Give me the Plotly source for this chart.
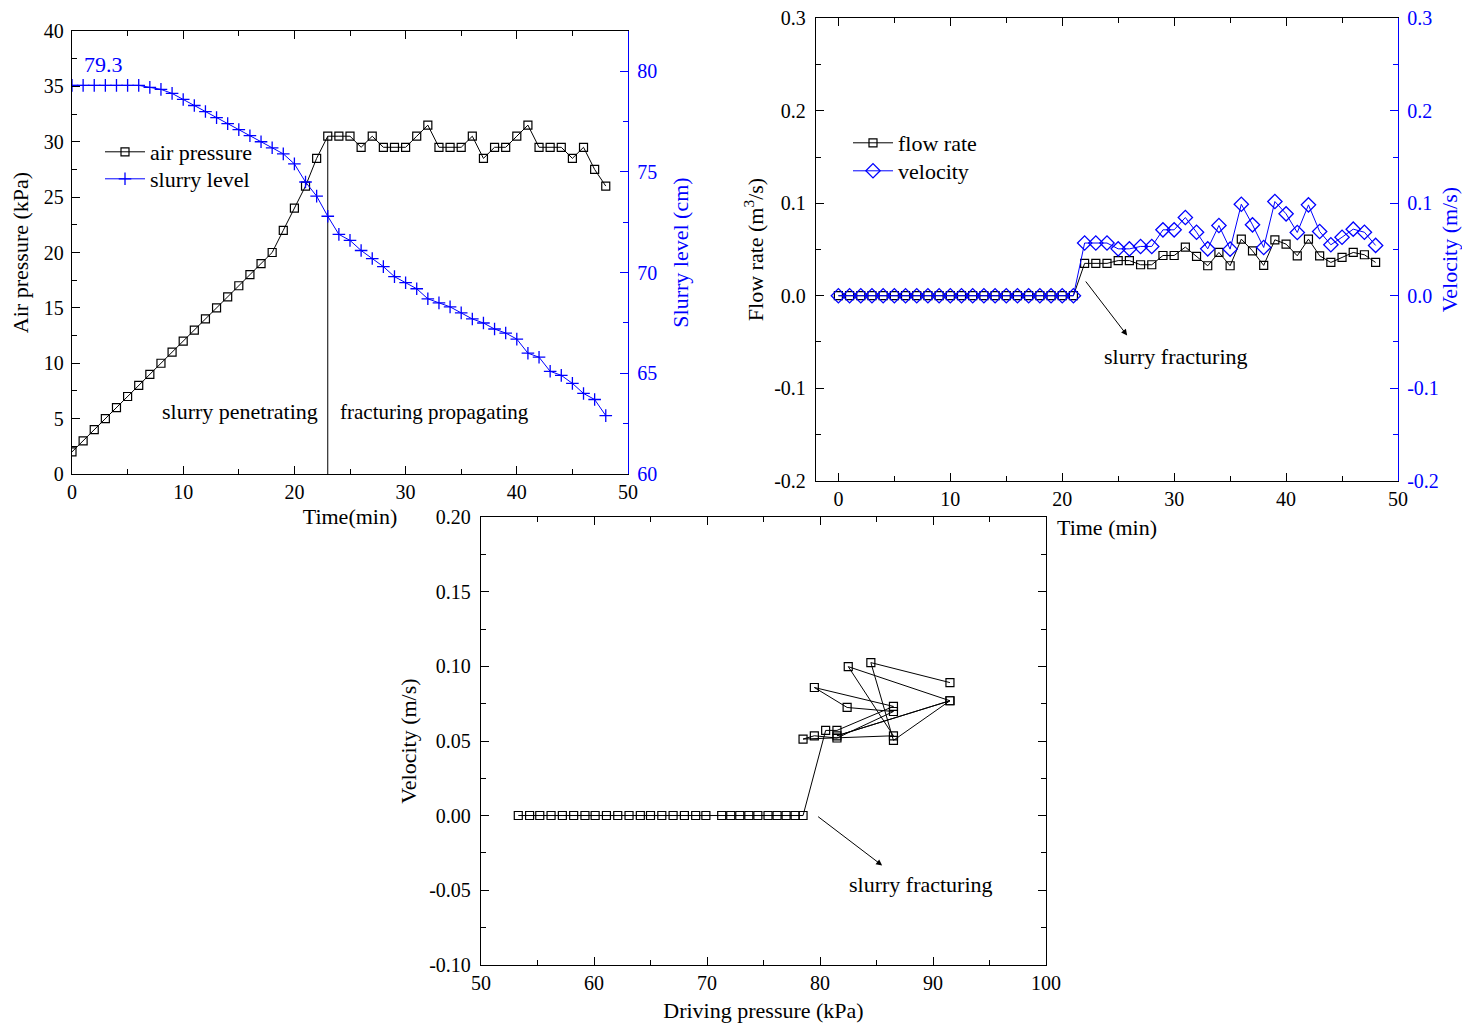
import plotly.graph_objects as go

# ---------------- data ----------------
time_min = [0, 1, 2, 3, 4, 5, 6, 7, 8, 9, 10, 11, 12, 13, 14, 15, 16, 17, 18, 19, 20,
            21, 22, 23, 24, 25, 26, 27, 28, 29, 30, 31, 32, 33, 34, 35, 36, 37, 38, 39,
            40, 41, 42, 43, 44, 45, 46, 47, 48]

air_pressure = [2, 3, 4, 5, 6, 7, 8, 9, 10, 11, 12, 13, 14, 15, 16, 17, 18, 19, 20,
                22, 24, 26, 28.5, 30.5,
                30.5, 30.5, 29.5, 30.5, 29.5, 29.5, 29.5, 30.5, 31.5, 29.5, 29.5, 29.5,
                30.5, 28.5, 29.5, 29.5, 30.5, 31.5, 29.5, 29.5, 29.5, 28.5, 29.5, 27.5, 26]

slurry_level = [79.3, 79.3, 79.3, 79.3, 79.3, 79.3, 79.3, 79.2, 79.1, 78.9, 78.6, 78.3,
                78.0, 77.7, 77.4, 77.1, 76.8, 76.5, 76.2, 75.9, 75.4, 74.5, 73.8, 72.8,
                71.9, 71.6, 71.1, 70.7, 70.3, 69.8, 69.5, 69.2, 68.7, 68.5, 68.3, 68.0,
                67.7, 67.5, 67.2, 67.0, 66.7, 66.0, 65.8, 65.1, 64.9, 64.5, 64.0, 63.7, 62.9]

fracture_time = 23
fracture_pressure = 30.5
initial_level_label = "79.3"

flow_rate = [0, 0, 0, 0, 0, 0, 0, 0, 0, 0, 0, 0, 0, 0, 0, 0, 0, 0, 0, 0, 0, 0,
             0.035, 0.035, 0.035, 0.038, 0.038, 0.0335, 0.0335, 0.0435, 0.0435, 0.0526,
             0.0425, 0.0324, 0.0468, 0.0324, 0.0612, 0.0486, 0.0328, 0.0605, 0.0558,
             0.0432, 0.0612, 0.0432, 0.036, 0.0414, 0.0468, 0.0443, 0.036]

velocity = [0, 0, 0, 0, 0, 0, 0, 0, 0, 0, 0, 0, 0, 0, 0, 0, 0, 0, 0, 0, 0, 0,
            0.057, 0.057, 0.057, 0.0507, 0.0507, 0.0533, 0.0533, 0.0713, 0.0713, 0.0846,
            0.0687, 0.0507, 0.0760, 0.0504, 0.099, 0.0767, 0.0522, 0.1019, 0.0886,
            0.0684, 0.0983, 0.0695, 0.0551, 0.0633, 0.0720, 0.0687, 0.0544]

driving_pressure = [53.3, 54.3, 55.2, 56.2, 57.2, 58.2, 59.2, 60.1, 61.1, 62.1, 63.1,
                    64.1, 65.0, 66.0, 67.0, 68.0, 69.0, 69.9, 71.3, 72.1, 72.9, 73.7,
                    74.5, 75.4, 76.2, 77.0, 77.8, 78.5,
                    80.5, 81.5, 86.5, 79.5, 82.4, 86.5, 81.5, 79.5, 78.5, 86.5, 82.5,
                    91.5, 81.5, 91.5, 86.5, 84.5, 91.5]
driving_velocity = [0, 0, 0, 0, 0, 0, 0, 0, 0, 0, 0, 0, 0, 0, 0, 0, 0, 0, 0, 0, 0, 0,
                    0, 0, 0, 0, 0, 0,
                    0.0571, 0.0571, 0.0732, 0.0859, 0.0725, 0.0698, 0.0520, 0.0535,
                    0.0513, 0.0535, 0.0999, 0.0770, 0.0535, 0.0770, 0.0504, 0.1026, 0.0892]

# tick labels (hyphen minus as in the reference)
flow_ticks = [-0.2, -0.1, 0.0, 0.1, 0.2, 0.3]
flow_ticktext = ["-0.2", "-0.1", "0.0", "0.1", "0.2", "0.3"]
drive_vel_ticks = [-0.10, -0.05, 0.00, 0.05, 0.10, 0.15, 0.20]
drive_vel_ticktext = ["-0.10", "-0.05", "0.00", "0.05", "0.10", "0.15", "0.20"]

# ---------------- styling ----------------
FONT = "Liberation Serif, Times New Roman, serif"
BLUE = "#0000ff"
TICK = 20
TITLE = 22
OFF = 8                      # default page body margin
W, H = 1470 - OFF, 1024 - OFF


def xd(a, b):
    return [(a - OFF) / W, (b - OFF) / W]


def yd(top, bottom):
    return [1 - (bottom - OFF) / H, 1 - (top - OFF) / H]


def px(x):
    return (x - OFF) / W


def py(y):
    return 1 - (y - OFF) / H


fig = go.Figure()

# ---- chart 1 ----
fig.add_trace(go.Scatter(x=time_min, y=air_pressure, name="air pressure",
                         mode="lines+markers", xaxis="x", yaxis="y",
                         line=dict(color="black", width=1),
                         marker=dict(symbol="square-open", size=8, color="black",
                                     line=dict(width=1.2)),
                         legend="legend"))
fig.add_trace(go.Scatter(x=time_min, y=slurry_level, name="slurry level",
                         mode="lines+markers", xaxis="x", yaxis="y2",
                         line=dict(color=BLUE, width=1),
                         marker=dict(symbol="cross-thin-open", size=9, color=BLUE,
                                     line=dict(width=1.3, color=BLUE)),
                         legend="legend2"))
fig.add_trace(go.Scatter(x=[fracture_time, fracture_time], y=[0, fracture_pressure],
                         mode="lines", xaxis="x", yaxis="y", showlegend=False,
                         line=dict(color="black", width=1)))

# ---- chart 2 ----
fig.add_trace(go.Scatter(x=time_min, y=flow_rate, name="flow rate",
                         mode="lines+markers", xaxis="x2", yaxis="y3",
                         line=dict(color="black", width=1),
                         marker=dict(symbol="square-open", size=8, color="black",
                                     line=dict(width=1.2)),
                         legend="legend3"))
fig.add_trace(go.Scatter(x=time_min, y=velocity, name="velocity",
                         mode="lines+markers", xaxis="x2", yaxis="y4",
                         line=dict(color=BLUE, width=1),
                         marker=dict(symbol="diamond-open", size=11, color=BLUE,
                                     line=dict(width=1.3)),
                         legend="legend4"))

# ---- chart 3 ----
fig.add_trace(go.Scatter(x=driving_pressure, y=driving_velocity, mode="lines+markers",
                         xaxis="x3", yaxis="y5", showlegend=False,
                         line=dict(color="black", width=1),
                         marker=dict(symbol="square-open", size=8, color="black",
                                     line=dict(width=1.2))))

tickfont = dict(family=FONT, size=TICK, color="black")
titlefont = dict(family=FONT, size=TITLE, color="black")
bluetick = dict(family=FONT, size=TICK, color=BLUE)
bluetitle = dict(family=FONT, size=TITLE, color=BLUE)


def axis(**kw):
    base = dict(showgrid=False, zeroline=False, showline=True, linecolor="black",
                linewidth=1.3, ticks="inside", ticklen=8, tickwidth=1.2,
                tickcolor="black", tickfont=tickfont, automargin=False,
                ticklabeloverflow="allow")
    base.update(kw)
    return base


def leg(x, center_y):
    return dict(x=px(x), y=py(center_y - 21), xanchor="left", yanchor="top",
                bgcolor="rgba(0,0,0,0)", font=dict(family=FONT, size=TITLE),
                itemwidth=40, tracegroupgap=0)


layout = dict(
    width=W, height=H, autosize=False,
    margin=dict(l=0, r=0, t=0, b=0),
    paper_bgcolor="white", plot_bgcolor="rgba(0,0,0,0)",
    font=dict(family=FONT, size=TICK, color="black"),
    # chart 1
    xaxis=axis(domain=xd(72, 628), anchor="y", range=[0, 50], dtick=10,
               mirror="ticks",
               minor=dict(dtick=5, ticks="inside", ticklen=5, tickcolor="black"),
               title=dict(text="Time(min)", font=titlefont, standoff=6)),
    yaxis=axis(domain=yd(31, 474), anchor="x", range=[0, 40], dtick=5,
               ticklabelstandoff=3,
               minor=dict(dtick=2.5, ticks="inside", ticklen=5, tickcolor="black"),
               title=dict(text="Air pressure (kPa)", font=titlefont, standoff=9)),
    yaxis2=axis(domain=yd(31, 474), anchor="x", overlaying="y",
                side="right", range=[60, 82], dtick=5, linecolor=BLUE, tickcolor=BLUE,
                tickfont=bluetick, ticklabelstandoff=4,
                minor=dict(dtick=2.5, ticks="inside", ticklen=5, tickcolor=BLUE),
                title=dict(text="Slurry level (cm)", font=bluetitle, standoff=16)),
    # chart 2
    xaxis2=axis(domain=xd(816, 1398), anchor="y3", range=[-2, 50], dtick=10,
                mirror="ticks", tick0=0,
                minor=dict(dtick=5, ticks="inside", ticklen=5, tickcolor="black"),
                title=dict(text="Time (min)", font=titlefont, standoff=10)),
    yaxis3=axis(domain=yd(18, 481), anchor="x2", range=[-0.2005, 0.3005],
                tickvals=flow_ticks, ticktext=flow_ticktext, ticklabelstandoff=5,
                minor=dict(tickvals=[-0.15, -0.05, 0.05, 0.15, 0.25], ticks="inside",
                           ticklen=5, tickcolor="black"),
                title=dict(text="Flow rate (m<sup>3</sup>/s)", font=titlefont, standoff=4)),
    yaxis4=axis(domain=yd(18, 481), anchor="x2", overlaying="y3",
                side="right", range=[-0.2005, 0.3005],
                tickvals=flow_ticks, ticktext=flow_ticktext, ticklabelstandoff=4,
                linecolor=BLUE, tickcolor=BLUE, tickfont=bluetick,
                minor=dict(tickvals=[-0.15, -0.05, 0.05, 0.15, 0.25], ticks="inside",
                           ticklen=5, tickcolor=BLUE),
                title=dict(text="Velocity (m/s)", font=bluetitle, standoff=3)),
    # chart 3
    xaxis3=axis(domain=xd(481, 1046), anchor="y5", range=[50, 100], dtick=10,
                mirror="ticks",
                minor=dict(dtick=5, ticks="inside", ticklen=5, tickcolor="black"),
                title=dict(text="Driving pressure (kPa)", font=titlefont, standoff=9)),
    yaxis5=axis(domain=yd(517, 965), anchor="x3", range=[-0.1003, 0.2003],
                tickvals=drive_vel_ticks, ticktext=drive_vel_ticktext, mirror="ticks",
                ticklabelstandoff=5,
                minor=dict(tickvals=[-0.075, -0.025, 0.025, 0.075, 0.125, 0.175],
                           ticks="inside", ticklen=5, tickcolor="black"),
                title=dict(text="Velocity (m/s)", font=titlefont, standoff=6)),
    legend=leg(100, 152),
    legend2=leg(100, 179),
    legend3=leg(848, 143),
    legend4=leg(848, 171),
    showlegend=True,
)
fig.update_layout(**layout)

ann = [
    dict(x=0.9, y=80.35, xref="x", yref="y2", text=initial_level_label, showarrow=False,
         xanchor="left", yanchor="middle", font=dict(family=FONT, size=TITLE, color=BLUE)),
    dict(x=22.3, y=5.6, xref="x", yref="y", text="slurry penetrating", showarrow=False,
         xanchor="right", yanchor="middle", font=titlefont),
    dict(x=23.9, y=5.6, xref="x", yref="y", text="fracturing propagating",
         showarrow=False, xanchor="left", yanchor="middle",
         font=dict(family=FONT, size=21, color="black")),
    dict(x=25.8, y=-0.043, xref="x2", yref="y3", ax=22.0, ay=0.017, axref="x2",
         ayref="y3", text="", showarrow=True, arrowhead=2, arrowsize=1.2,
         arrowwidth=1, arrowcolor="black"),
    dict(x=30.2, y=-0.066, xref="x2", yref="y3", text="slurry fracturing",
         showarrow=False, xanchor="center", yanchor="middle", font=titlefont),
    dict(x=85.5, y=-0.0335, xref="x3", yref="y5", ax=79.7, ay=0.0, axref="x3",
         ayref="y5", text="", showarrow=True, arrowhead=2, arrowsize=1.2,
         arrowwidth=1, arrowcolor="black"),
    dict(x=88.9, y=-0.046, xref="x3", yref="y5", text="slurry fracturing",
         showarrow=False, xanchor="center", yanchor="middle", font=titlefont),
]
fig.update_layout(annotations=ann)

fig.write_html("out.html")
